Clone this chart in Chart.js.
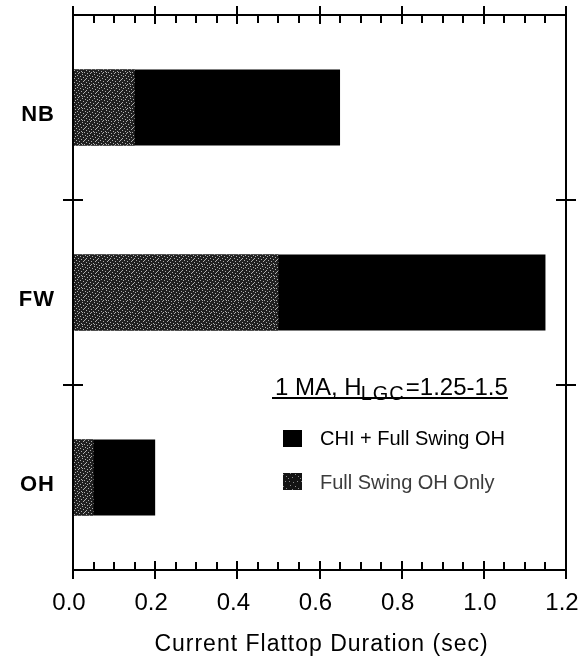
<!DOCTYPE html>
<html>
<head>
<meta charset="utf-8">
<script src="https://cdn.jsdelivr.net/npm/chart.js@4.4.1/dist/chart.umd.min.js"></script>
<style>
  html, body { margin: 0; padding: 0; background: #fff; }
  canvas { display: block; }
</style>
</head>
<body>
<canvas id="c" width="587" height="665"></canvas>
<script>
// Flattop duration per scenario (seconds)
const categories = ['NB', 'FW', 'OH'];
const ohOnly = [0.15, 0.50, 0.05];      // Full Swing OH Only
const chiPlusOh = [0.65, 1.15, 0.20];   // CHI + Full Swing OH (total)
const xTickValues = [0, 0.2, 0.4, 0.6, 0.8, 1.0, 1.2];
const seriesNames = ['CHI + Full Swing OH', 'Full Swing OH Only'];
const legendTitle = ['1 MA, H', 'LGC', '=1.25-1.5'];
const axisTitle = 'Current Flattop Duration (sec)';

const FONT = '"Liberation Sans", Arial, Helvetica, sans-serif';

const canvas = document.getElementById('c');
const ctx0 = canvas.getContext('2d');

// Speckled dark fill used for the "OH only" portion
function makeStipple(base, dot, dots, size) {
  const c = document.createElement('canvas');
  c.width = size; c.height = size;
  const g = c.getContext('2d');
  g.fillStyle = base; g.fillRect(0, 0, size, size);
  g.fillStyle = dot;
  dots.forEach(([x, y]) => g.fillRect(x, y, 1, 1));
  return ctx0.createPattern(c, 'repeat');
}
const stippleDots = [
  [0,0],[3,1],[7,0],[10,2],[1,3],[5,3],[8,4],[11,5],[2,6],[6,6],[9,7],
  [0,8],[4,8],[7,9],[11,9],[2,10],[5,11],[9,11],[3,4],[10,0],[6,1],[1,7]
];
const stipple = makeStipple('#202020', '#b0b0b0', stippleDots, 12);
const stippleDark = makeStipple('#141414', '#8a8a8a', [[1,1],[5,2],[9,1],[2,5],[7,6],[10,8],[4,9],[0,10]], 12);

// Frame with crossing major ticks and inward minor ticks
const framePlugin = {
  id: 'frame',
  afterDatasetsDraw(chart) {
    const { ctx, chartArea: a, scales: { x, y } } = chart;
    ctx.save();
    ctx.strokeStyle = '#000';
    ctx.lineWidth = 2;
    ctx.strokeRect(a.left, a.top, a.right - a.left, a.bottom - a.top);

    ctx.beginPath();
    for (let i = 0; i <= 24; i++) {
      const px = Math.round(x.getPixelForValue(i * 0.05));
      if (i % 4 === 0) {
        ctx.moveTo(px, a.bottom - 9); ctx.lineTo(px, a.bottom + 9);
        ctx.moveTo(px, a.top - 9); ctx.lineTo(px, a.top + 9);
      } else {
        ctx.moveTo(px, a.bottom - 8); ctx.lineTo(px, a.bottom);
        ctx.moveTo(px, a.top); ctx.lineTo(px, a.top + 8);
      }
    }
    for (let i = 0; i < categories.length - 1; i++) {
      const py = Math.round((y.getPixelForValue(i) + y.getPixelForValue(i + 1)) / 2);
      ctx.moveTo(a.left - 10, py); ctx.lineTo(a.left + 10, py);
      ctx.moveTo(a.right - 10, py); ctx.lineTo(a.right + 10, py);
    }
    ctx.stroke();
    ctx.restore();
  }
};

// Category names, axis title and the in-plot legend
const textPlugin = {
  id: 'texts',
  afterDraw(chart) {
    const { ctx, chartArea: a, scales: { y } } = chart;
    ctx.save();
    ctx.fillStyle = '#000';

    // category labels
    ctx.font = 'bold 22px ' + FONT;
    ctx.letterSpacing = '1px';
    ctx.textAlign = 'right';
    ctx.textBaseline = 'middle';
    categories.forEach((c, i) => {
      ctx.fillText(c, 55, y.getPixelForValue(i) + 7);
    });

    // x-axis title
    ctx.font = '23px ' + FONT;
    ctx.letterSpacing = '1px';
    ctx.textAlign = 'center';
    ctx.textBaseline = 'alphabetic';
    ctx.fillText(axisTitle, (a.left + a.right) / 2 + 2, 651);

    // legend title with subscript and underline
    ctx.letterSpacing = '0px';
    ctx.textAlign = 'left';
    let tx = 275;
    const by = 395;
    ctx.font = '24px ' + FONT;
    ctx.fillText(legendTitle[0], tx, by);
    tx += ctx.measureText(legendTitle[0]).width;
    ctx.font = '20px ' + FONT;
    ctx.letterSpacing = '1px';
    ctx.fillText(legendTitle[1], tx - 1, by + 5);
    tx += ctx.measureText(legendTitle[1]).width;
    ctx.letterSpacing = '0px';
    ctx.font = '24px ' + FONT;
    ctx.fillText(legendTitle[2], tx, by);
    tx += ctx.measureText(legendTitle[2]).width;
    ctx.fillRect(272, 397, tx - 272, 2);

    // legend entries
    ctx.font = '20px ' + FONT;
    ctx.fillStyle = '#000';
    ctx.fillRect(283, 430, 19, 17);
    ctx.fillText(seriesNames[0], 320, 445);
    ctx.fillStyle = stippleDark;
    ctx.fillRect(283, 473, 19, 17);
    ctx.fillStyle = '#3c3c3c';
    ctx.fillText(seriesNames[1], 320, 489);
    ctx.restore();
  }
};

new Chart(canvas, {
  type: 'bar',
  data: {
    labels: categories,
    datasets: [
      {
        label: seriesNames[1],
        data: ohOnly,
        backgroundColor: stipple,
        borderWidth: 0,
        grouped: false,
        order: 0
      },
      {
        label: seriesNames[0],
        data: chiPlusOh,
        backgroundColor: '#000',
        borderWidth: 0,
        grouped: false,
        order: 1
      }
    ]
  },
  options: {
    indexAxis: 'y',
    responsive: false,
    animation: false,
    devicePixelRatio: 1,
    layout: { padding: { left: 0, right: 21, top: 15, bottom: 0 } },
    datasets: { bar: { barPercentage: 0.41, categoryPercentage: 1.0 } },
    plugins: {
      legend: { display: false },
      tooltip: { enabled: false },
      title: { display: false }
    },
    scales: {
      y: {
        type: 'category',
        grid: { display: false, drawTicks: false },
        border: { display: false },
        ticks: { display: false },
        afterFit(s) { s.width = 73; }
      },
      x: {
        type: 'linear',
        min: 0,
        max: 1.2,
        afterBuildTicks(s) { s.ticks = xTickValues.map(v => ({ value: v })); },
        grid: { display: false, drawTicks: false },
        border: { display: false },
        ticks: {
          color: '#000',
          padding: 19,
          labelOffset: -4,
          maxRotation: 0,
          autoSkip: false,
          font: { family: FONT, size: 24 },
          callback: v => Number(v).toFixed(1)
        },
        afterFit(s) {
          s.height = 95;
          s.paddingLeft = 0;
          s.paddingRight = 0;
        }
      }
    }
  },
  plugins: [framePlugin, textPlugin]
});
</script>
</body>
</html>
